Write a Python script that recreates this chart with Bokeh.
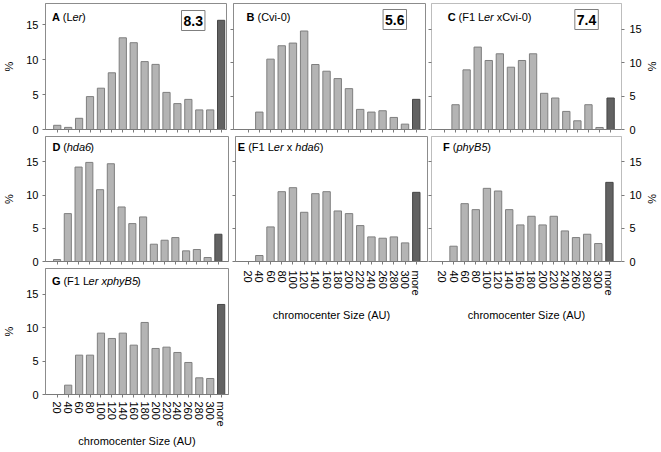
from bokeh.plotting import figure
from bokeh.models import Range1d, FixedTicker, LinearAxis, Label, ColumnDataSource
from bokeh.layouts import row, column
from bokeh.embed import file_html
from bokeh.resources import INLINE

# ---------------- data ----------------
categories = ["20", "40", "60", "80", "100", "120", "140", "160", "180",
              "200", "220", "240", "260", "280", "300", "more"]
y_ticks = [0, 5, 10, 15]

pct_A = [0.6, 0.3, 1.6, 4.7, 5.9, 8.1, 13.1, 12.4, 9.7, 9.3, 5.3, 3.7, 4.3, 2.8, 2.8, 15.6]
pct_B = [0.0, 2.6, 10.5, 12.5, 12.9, 14.7, 9.7, 8.7, 7.6, 6.1, 3.0, 2.6, 2.8, 1.8, 0.8, 4.5]
pct_C = [0.0, 3.7, 8.9, 12.3, 10.3, 11.3, 9.3, 10.3, 11.3, 5.4, 4.7, 2.7, 1.3, 3.7, 0.3, 4.7]
pct_D = [0.3, 7.2, 14.2, 14.9, 10.8, 14.7, 8.2, 5.7, 6.7, 2.6, 3.2, 3.6, 1.6, 1.8, 0.6, 4.1]
pct_E = [0.0, 0.9, 5.2, 10.5, 11.1, 7.4, 10.2, 10.5, 7.6, 7.2, 5.4, 3.7, 3.5, 3.7, 2.8, 10.4]
pct_F = [0.0, 2.3, 8.7, 7.8, 11.0, 10.6, 7.8, 5.5, 6.8, 5.5, 6.8, 4.6, 3.6, 4.1, 2.7, 11.9]
pct_G = [0.0, 1.4, 5.9, 5.9, 9.2, 8.4, 9.2, 7.4, 10.8, 6.9, 7.1, 6.3, 4.8, 2.5, 2.4, 13.5]

mean_A = "8.3"
mean_B = "5.6"
mean_C = "7.4"

title_A = [("A", "bold"), (" (L", "normal"), ("er", "italic"), (")", "normal")]
title_B = [("B", "bold"), (" (Cvi-0)", "normal")]
title_C = [("C", "bold"), (" (F1 L", "normal"), ("er", "italic"), (" xCvi-0)", "normal")]
title_D = [("D", "bold"), (" (", "normal"), ("hda6", "italic"), (")", "normal")]
title_E = [("E", "bold"), (" (F1 L", "normal"), ("er", "italic"), (" x ", "normal"),
           ("hda6", "italic"), (")", "normal")]
title_F = [("F", "bold"), (" (", "normal"), ("phyB5", "italic"), (")", "normal")]
title_G = [("G", "bold"), (" (F1 L", "normal"), ("er xphyB5", "italic"), (")", "normal")]

y_title = "%"
x_title = "chromocenter Size (AU)"

# ---------------- style ----------------
FONT = "Liberation Sans"
LIGHT, LIGHT_LINE = "#B4B4B4", "#7F7F7F"
DARK, DARK_LINE = "#626262", "#474747"
AXIS = "#7A7A7A"

# Arial-compatible advance widths (1/1000 em)
_W = {' ': 278, '(': 333, ')': 333, '-': 333, '.': 278, 'A': 667, 'B': 667, 'C': 722,
      'D': 722, 'E': 667, 'F': 611, 'G': 778, 'L': 556, 'S': 667, 'U': 722, 'a': 556,
      'c': 500, 'd': 556, 'e': 556, 'h': 556, 'i': 222, 'm': 833, 'n': 556, 'o': 556,
      'p': 556, 'r': 333, 't': 278, 'v': 500, 'x': 500, 'y': 500, 'z': 500}
_WB = {'A': 722, 'B': 722, 'C': 722, 'D': 722, 'E': 667, 'F': 611, 'G': 778}


def text_width(s, style, size):
    tot = 0
    for ch in s:
        if ch.isdigit():
            tot += 556
        elif style == "bold" and ch in _WB:
            tot += _WB[ch]
        else:
            tot += _W.get(ch, 556)
    return tot * size / 1000.0


def hide_labels(ax):
    ax.major_label_text_font_size = "0px"
    ax.major_label_text_color = None
    ax.major_label_standoff = 0


def make_panel(vals, title, geo, title_pos, mean=None, box_pos=None,
               ylab_left=False, ylab_right=False, xlab=False, frame="#8C8C8C",
               xlab_standoff=4, xtitle_standoff=14):
    fl, fr, ft, fb = geo["fl"], geo["fr"], geo["ft"], geo["fb"]
    c0, c15, ppu = geo["c0"], geo["c15"], geo["ppu"]
    n = len(categories)
    dx = (c15 - c0) / (n - 1)
    xs = (fl - c0) / dx
    xe = (n - 1) + (fr - c15) / dx
    ye = (fb - ft) / ppu
    w = geo["mbl"] + (fr - fl) + geo["mbr"]
    h = geo["mbt"] + (fb - ft) + geo["mbb"]

    def dx_(X):
        return (X - c0) / dx

    def dy_(Y):
        return (fb - Y) / ppu

    p = figure(width=w, height=h, x_range=Range1d(xs, xe), y_range=Range1d(0, ye),
               output_backend="svg", toolbar_location=None, title=None,
               min_border_left=geo["mbl"], min_border_right=geo["mbr"],
               min_border_top=geo["mbt"], min_border_bottom=geo["mbb"])
    p.xgrid.visible = False
    p.ygrid.visible = False
    p.background_fill_color = "white"
    p.border_fill_color = "white"
    p.outline_line_color = frame
    p.outline_line_width = 1

    src = ColumnDataSource(dict(
        x=list(range(n)), top=vals,
        fill=[LIGHT] * (n - 1) + [DARK],
        line=[LIGHT_LINE] * (n - 1) + [DARK_LINE]))
    p.vbar(x="x", top="top", bottom=0, width=0.66, source=src,
           fill_color="fill", line_color="line", line_width=1)

    # x axis
    xa = p.xaxis[0]
    xa.ticker = FixedTicker(ticks=list(range(n)))
    xa.major_label_overrides = {i: c for i, c in enumerate(categories)}
    xa.major_tick_in = 0
    xa.major_tick_out = 3
    xa.minor_tick_line_color = None
    xa.axis_line_color = AXIS
    xa.major_tick_line_color = AXIS
    if xlab:
        xa.major_label_orientation = "vertical"
        xa.major_label_text_font = FONT
        xa.major_label_text_font_size = "11px"
        xa.major_label_text_color = "black"
        xa.major_label_standoff = xlab_standoff
        xa.axis_label = x_title
        xa.axis_label_text_font = FONT
        xa.axis_label_text_font_size = "11px"
        xa.axis_label_text_font_style = "normal"
        xa.axis_label_text_color = "black"
        xa.axis_label_standoff = xtitle_standoff
    else:
        hide_labels(xa)

    # left y axis
    ya = p.yaxis[0]
    ya.ticker = FixedTicker(ticks=y_ticks)
    ya.major_tick_in = 0
    ya.major_tick_out = 3
    ya.minor_tick_line_color = None
    ya.axis_line_color = frame
    ya.major_tick_line_color = AXIS
    if ylab_left:
        ya.major_label_text_font = FONT
        ya.major_label_text_font_size = "11px"
        ya.major_label_text_color = "black"
        ya.major_label_standoff = 4
        ya.axis_label = y_title
        ya.axis_label_text_font = FONT
        ya.axis_label_text_font_size = "11px"
        ya.axis_label_text_font_style = "normal"
        ya.axis_label_text_color = "black"
        ya.axis_label_standoff = 8
    else:
        hide_labels(ya)

    if ylab_right:
        ra = LinearAxis(ticker=FixedTicker(ticks=y_ticks), axis_label=y_title)
        ra.major_tick_in = 0
        ra.major_tick_out = 3
        ra.minor_tick_line_color = None
        ra.axis_line_color = frame
        ra.major_tick_line_color = AXIS
        ra.major_label_text_font = FONT
        ra.major_label_text_font_size = "11px"
        ra.major_label_text_color = "black"
        ra.major_label_standoff = 5
        ra.axis_label_text_font = FONT
        ra.axis_label_text_font_size = "11px"
        ra.axis_label_text_font_style = "normal"
        ra.axis_label_text_color = "black"
        ra.axis_label_standoff = 1
        p.add_layout(ra, "right")

    # panel title (mixed styles)
    X, Y = title_pos
    fs = 11
    for txt, style in title:
        lead = len(txt) - len(txt.lstrip(" "))
        core = txt.strip(" ")
        x0 = X + text_width(" " * lead, style, fs)
        if core:
            p.add_layout(Label(x=dx_(x0), y=dy_(Y), text=core, text_font=FONT,
                               text_font_size="11px", text_font_style=style,
                               text_color="black", text_align="left",
                               text_baseline="middle"))
        X += text_width(txt, style, fs)

    if mean is not None:
        bx, by = box_pos
        p.add_layout(Label(x=dx_(bx), y=dy_(by), text=mean, text_font=FONT,
                           text_font_size="14px", text_font_style="bold",
                           text_color="black", text_align="center",
                           text_baseline="middle", background_fill_color="white",
                           border_line_color="#7F7F7F", border_line_width=1,
                           padding=(2, 5)))
    return p


# frame geometry in page pixels (layout starts at the page's top-left corner)
geo_A = dict(fl=41, fr=226, ft=3, fb=129, c0=53, c15=220.5, ppu=7.0, mbl=41, mbr=3, mbt=3, mbb=7)
geo_B = dict(fl=233, fr=425, ft=3, fb=129, c0=247.6, c15=415.7, ppu=6.7, mbl=4, mbr=3, mbt=3, mbb=7)
geo_C = dict(fl=431, fr=623, ft=3, fb=129, c0=444.1, c15=612.0, ppu=6.7, mbl=3, mbr=37, mbt=3, mbb=7)
geo_D = dict(fl=41, fr=231, ft=136, fb=261, c0=53, c15=220.5, ppu=6.65, mbl=41, mbr=1, mbt=0, mbb=7)
geo_E = dict(fl=235, fr=427, ft=136, fb=261, c0=247.6, c15=415.8, ppu=6.65, mbl=3, mbr=1, mbt=0, mbb=62)
geo_F = dict(fl=431, fr=623, ft=136, fb=261, c0=442.0, c15=610.8, ppu=6.65, mbl=3, mbr=37, mbt=0, mbb=62)
geo_G = dict(fl=41, fr=228, ft=268, fb=394, c0=53, c15=220.5, ppu=6.67, mbl=41, mbr=4, mbt=0, mbb=56)

pA = make_panel(pct_A, title_A, geo_A, (47.7, 16), mean_A, (192, 20), ylab_left=True)
pB = make_panel(pct_B, title_B, geo_B, (246, 16), mean_B, (394.3, 19))
pC = make_panel(pct_C, title_C, geo_C, (447.3, 16), mean_C, (587.7, 19), ylab_right=True,
                frame="#BDBDBD")
pD = make_panel(pct_D, title_D, geo_D, (48.3, 146), ylab_left=True)
pE = make_panel(pct_E, title_E, geo_E, (237.3, 146), xlab=True, xlab_standoff=6, xtitle_standoff=10)
pF = make_panel(pct_F, title_F, geo_F, (442.7, 146), ylab_right=True, xlab=True,
                frame="#BDBDBD", xlab_standoff=6, xtitle_standoff=10)
pG = make_panel(pct_G, title_G, geo_G, (47.7, 280), ylab_left=True, xlab=True,
                xlab_standoff=4, xtitle_standoff=5)

layout = column(row(pA, pB, pC), row(column(pD, pG), pE, pF))

open("out.html", "w").write(file_html(layout, INLINE))
